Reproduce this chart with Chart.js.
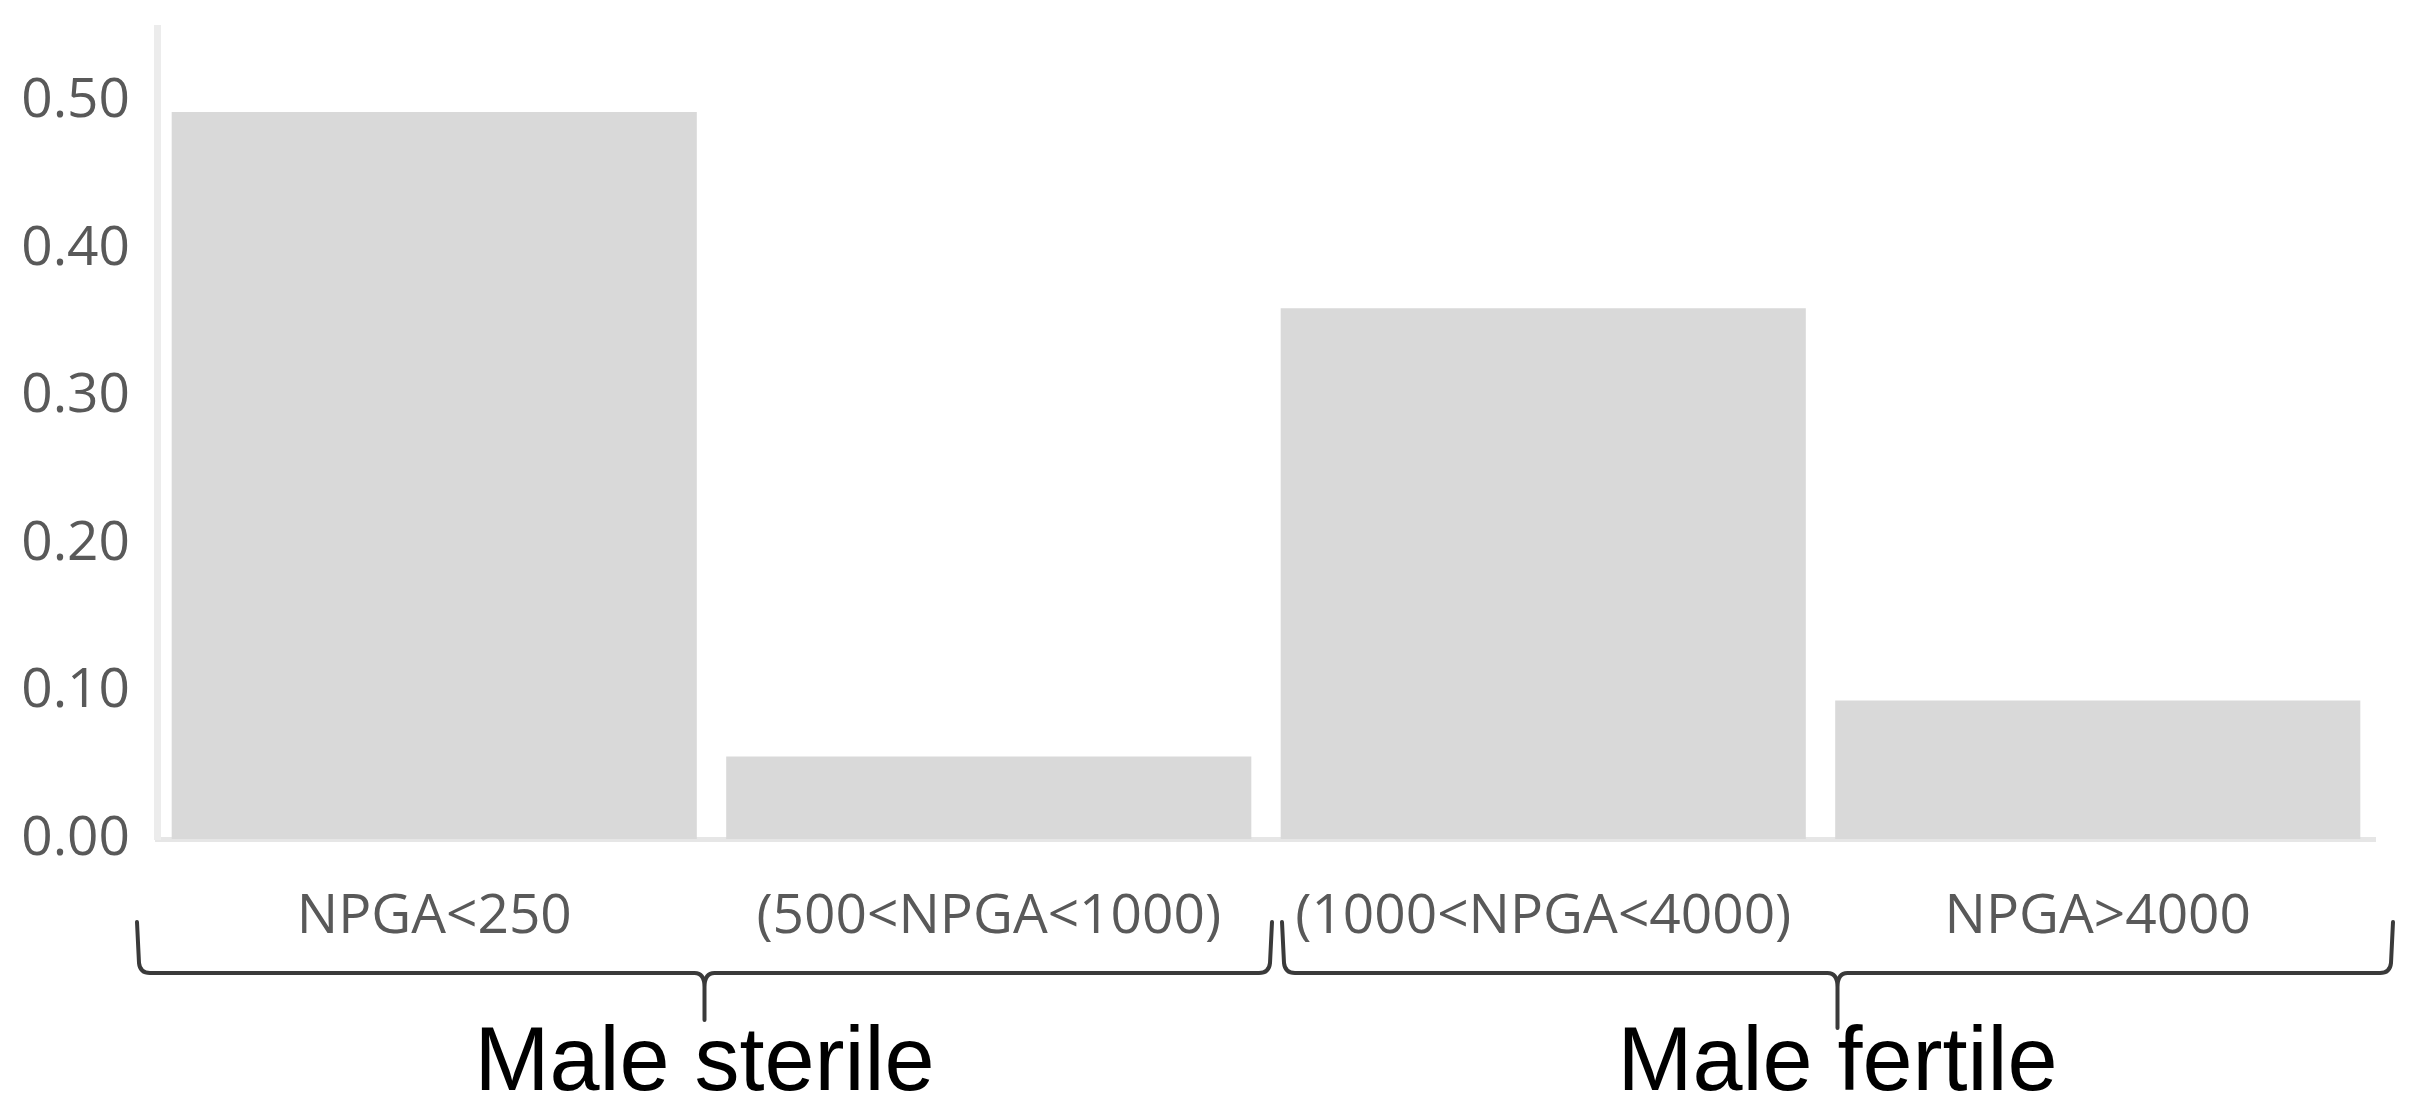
<!DOCTYPE html>
<html>
<head>
<meta charset="utf-8">
<script src="https://cdn.jsdelivr.net/npm/chart.js@4/dist/chart.umd.min.js"></script>
<style>
  html, body { margin: 0; padding: 0; background: #fff; }
  #wrap { width: 2411px; height: 1109px; }
</style>
</head>
<body>
<div id="wrap"><canvas id="npgaChart" width="2411" height="1109"></canvas></div>
<script>
// dados do gráfico
const categorias = ["NPGA<250", "(500<NPGA<1000)", "(1000<NPGA<4000)", "NPGA>4000"];
const valores = [0.493, 0.056, 0.360, 0.094];
const yTicks = [0, 0.1, 0.2, 0.3, 0.4, 0.5];
const grupos = ["Male sterile", "Male fertile"];
const grupoInicio = [0, 2];
const grupoFim = [1, 3];

// chaves em baixo dos rótulos do eixo x
const chavesPlugin = {
  id: "chaves",
  afterDraw(chart) {
    const ctx = chart.ctx;
    const x = chart.scales.x;
    const catW = x.getPixelForValue(1) - x.getPixelForValue(0);
    const folgaEsq = [-20, 16];
    const folgaDir = [6, 18];
    const pontaY = [1020, 1028];
    const topo = 922;
    const linhaY = 973;
    const r = 10;

    ctx.save();
    ctx.strokeStyle = "#3a3a3a";
    ctx.lineWidth = 4;
    ctx.lineCap = "round";
    ctx.lineJoin = "round";

    grupos.forEach((nome, i) => {
      const x0 = x.getPixelForValue(grupoInicio[i]) - catW / 2 + folgaEsq[i];
      const x1 = x.getPixelForValue(grupoFim[i]) + catW / 2 + folgaDir[i];
      const meio = (x0 + x1) / 2;

      ctx.beginPath();
      ctx.moveTo(x0, topo);
      ctx.lineTo(x0 + 2, linhaY - r);
      ctx.quadraticCurveTo(x0 + 3, linhaY, x0 + r + 3, linhaY);
      ctx.lineTo(meio - r, linhaY);
      ctx.quadraticCurveTo(meio, linhaY, meio, linhaY + r + 4);
      ctx.lineTo(meio, pontaY[i]);
      ctx.moveTo(meio, linhaY + r + 4);
      ctx.quadraticCurveTo(meio, linhaY, meio + r, linhaY);
      ctx.lineTo(x1 - r - 3, linhaY);
      ctx.quadraticCurveTo(x1 - 3, linhaY, x1 - 2, linhaY - r);
      ctx.lineTo(x1, topo);
      ctx.stroke();

      ctx.fillStyle = "#000";
      ctx.font = "90px 'Liberation Sans', Arial, sans-serif";
      ctx.textAlign = "center";
      ctx.textBaseline = "alphabetic";
      ctx.fillText(nome, meio, 1090);
    });
    ctx.restore();
  }
};

const ctx = document.getElementById("npgaChart").getContext("2d");
new Chart(ctx, {
  type: "bar",
  data: {
    labels: categorias,
    datasets: [
      {
        data: valores,
        backgroundColor: "#d9d9d9",
        borderWidth: 0,
        categoryPercentage: 1.0,
        barPercentage: 0.947,
      },
    ],
  },
  options: {
    responsive: false,
    animation: false,
    devicePixelRatio: 1,
    layout: { padding: { left: 0, right: 36, top: 28, bottom: 0 } },
    plugins: {
      legend: { display: false },
      tooltip: { enabled: false },
    },
    scales: {
      x: {
        grid: { display: false, drawTicks: false },
        border: { display: true, color: "#e6e6e6", width: 5 },
        ticks: {
          color: "#595959",
          font: { family: "'Open Sans'", size: 55, lineHeight: 1 },
          padding: 51,
          maxRotation: 0,
          autoSkip: false,
        },
        afterFit: (scale) => {
          scale.height = 270;
          scale.paddingLeft = 0;
          scale.paddingRight = 0;
        },
      },
      y: {
        min: 0,
        max: 0.55,
        grid: { display: false, drawTicks: false },
        border: { display: true, color: "#ececec", width: 7 },
        ticks: {
          color: "#595959",
          font: { family: "'Open Sans'", size: 55, lineHeight: 1 },
          padding: 27,
          callback: (v) => v.toFixed(2),
        },
        afterBuildTicks: (scale) => {
          scale.ticks = yTicks.map((v) => ({ value: v }));
        },
        afterFit: (scale) => {
          scale.width = 157;
          scale.paddingTop = 0;
          scale.paddingBottom = 0;
        },
      },
    },
  },
  plugins: [chavesPlugin],
});
</script>
</body>
</html>
